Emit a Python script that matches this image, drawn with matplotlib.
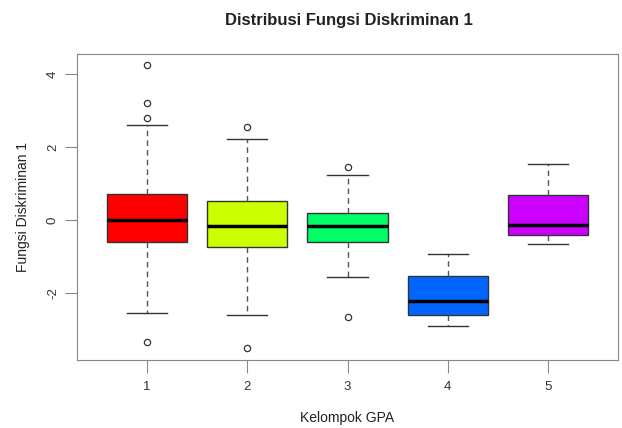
import matplotlib
matplotlib.use("Agg")
from matplotlib import pyplot as plt

plt.rcParams['font.family'] = ['Liberation Sans', 'DejaVu Sans']

groups = ['1', '2', '3', '4', '5']
q1 = [-0.60, -0.73, -0.60, -2.60, -0.41]
med = [0.00, -0.16, -0.16, -2.22, -0.14]
q3 = [0.71, 0.52, 0.19, -1.53, 0.69]
whislo = [-2.55, -2.60, -1.56, -2.90, -0.66]
whishi = [2.60, 2.22, 1.23, -0.93, 1.53]
fliers = [[4.25, 3.20, 2.79, -3.34], [2.55, -3.51], [1.45, -2.66], [], []]
colors = ['#FF0000', '#CCFF00', '#00FF66', '#0066FF', '#CC00FF']

stats = []
for i in range(len(groups)):
    stats.append({'label': groups[i], 'q1': q1[i], 'med': med[i], 'q3': q3[i],
                  'whislo': whislo[i], 'whishi': whishi[i], 'fliers': fliers[i]})

fig = plt.figure(figsize=(6.22, 4.28), dpi=100)
ax = fig.add_axes([77/622, 68/428, 541/622, 306/428])

bp = ax.bxp(stats, positions=[1, 2, 3, 4, 5], widths=0.8, patch_artist=True,
            capwidths=0.4,
            boxprops=dict(edgecolor='#333333', linewidth=1),
            medianprops=dict(color='black', linewidth=2.5),
            whiskerprops=dict(color='#555555', linestyle=(0, (4, 3)), linewidth=1),
            capprops=dict(color='#333333', linewidth=1),
            flierprops=dict(marker='o', markerfacecolor='none', markeredgecolor='#333333',
                            markersize=4.5, markeredgewidth=0.9))
for patch, c in zip(bp['boxes'], colors):
    patch.set_facecolor(c)

ax.set_xlim(0.3, 5.7)
ax.set_ylim(-3.84, 4.55)
ax.set_yticks([-2, 0, 2, 4])
ax.set_yticklabels(['-2', '0', '2', '4'], rotation=90, va='center')
for s in ax.spines.values():
    s.set_color('#888888')
ax.tick_params(colors='#333333', labelsize=9.5, length=9, width=0.8, pad=4)
ax.tick_params(axis='both', color='#888888')
ax.tick_params(axis='x', pad=6)

ax.set_xlabel('Kelompok GPA', fontsize=10, color='#222222', labelpad=13)
ax.set_ylabel('Fungsi Diskriminan 1', fontsize=10, color='#222222', labelpad=12)
fig.text(349/622, 1 - 20/428, 'Distribusi Fungsi Diskriminan 1', ha='center', va='center',
         fontsize=12, fontweight='bold', color='#222222')

fig.savefig('out.png', dpi=100)
